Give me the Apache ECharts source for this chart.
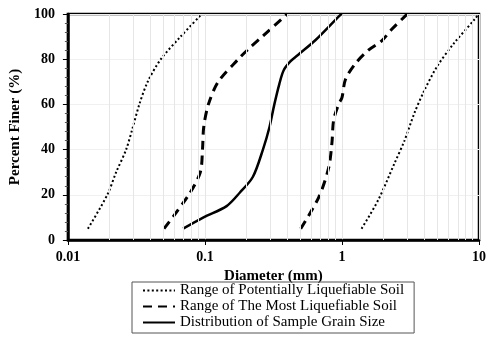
<!DOCTYPE html>
<html>
<head>
<meta charset="utf-8">
<script src="https://cdn.jsdelivr.net/npm/echarts@6/dist/echarts.min.js"></script>
<style>html,body{margin:0;padding:0;background:#fff;}#c{width:489px;height:338px;}</style>
</head>
<body>
<div id="c"></div>
<script>
// Series names
var seriesNames = ['Range of Potentially Liquefiable Soil', 'Range of The Most Liquefiable Soil', 'Distribution of Sample Grain Size'];
// Range of potentially liquefiable soil (fine and coarse bounds) [diameter mm, % finer]
var potentialFine = [[0.014,5],[0.0194,20],[0.0225,30],[0.0266,40],[0.0298,50],[0.0332,60],[0.0382,70],[0.0477,80],[0.0664,90],[0.095,100]];
var potentialCoarse = [[1.39,5],[1.84,17.7],[2.42,34],[2.86,44],[3.37,56],[3.98,66],[4.97,77],[6.56,87],[9.4,98],[9.9,100]];
// Range of the most liquefiable soil (fine and coarse bounds)
var mostFine = [[0.0503,5],[0.0762,20],[0.0925,30],[0.096,40],[0.098,50],[0.106,60],[0.125,70],[0.175,80],[0.212,85],[0.262,90],[0.367,98],[0.40,100]];
var mostCoarse = [[0.5,5],[0.678,19],[0.80,32],[0.845,43],[0.869,53],[0.944,60],[1.0,63],[1.06,71],[1.25,78],[1.56,84],[1.94,88],[2.29,93],[2.94,99.5],[3.0,100]];
// Distribution of sample grain size
var sample = [[0.0693,5],[0.0977,10],[0.144,15],[0.18,21],[0.224,28],[0.265,40],[0.296,50],[0.321,60],[0.349,69],[0.375,75],[0.420,79],[0.480,82],[0.642,88.5],[0.97,99.5],[1.0,100]];
// Axis ticks
var xTickLabels = [0.01, 0.1, 1, 10];
var yTicks = [0, 20, 40, 60, 80, 100];
var minorTicks = [0.02,0.03,0.04,0.05,0.06,0.07,0.08,0.09,0.2,0.3,0.4,0.5,0.6,0.7,0.8,0.9,2,3,4,5,6,7,8,9];

var FONT = 'Liberation Serif';
var chart = echarts.init(document.getElementById('c'));
var dotStyle = {color:'#000', width:2, type:[2,2.4], cap:'butt'};
var dashStyle = {color:'#000', width:3, type:[9,6]};
var solidStyle = {color:'#000', width:2.5};
function line(name, data, style, z) {
  return {name:name, type:'line', data:data, symbol:'none', showSymbol:false, smooth:0.3, lineStyle:style, itemStyle:{color:'#000'}, z:z||3, silent:true};
}
var series = [
  line(seriesNames[0], potentialFine, dotStyle),
  line(seriesNames[0], potentialCoarse, dotStyle),
  line(seriesNames[1], mostFine, dashStyle),
  line(seriesNames[1], mostCoarse, dashStyle),
  line(seriesNames[2], sample, solidStyle),
  {type:'line', data:[], silent:true, z:1,
   markLine:{silent:true, symbol:'none', label:{show:false},
     lineStyle:{color:'#e6e6e6', width:1, type:'solid'},
     data: minorTicks.map(function(v){return {xAxis:v};})}}
];
chart.setOption({
  animation:false,
  grid:{left:66, right:7, top:14, bottom:98, show:true, borderColor:'#000', borderWidth:2.5, backgroundColor:'transparent'},
  legend:{
    data:seriesNames, orient:'vertical', left:132, top:282, width:281,
    padding:[1,10,3,10], itemGap:1, itemWidth:32, itemHeight:15,
    borderColor:'#555', borderWidth:1, selectedMode:false,
    itemStyle:{opacity:0},
    textStyle:{fontFamily:FONT, fontSize:15, color:'#000'}
  },
  xAxis:{
    type:'log', logBase:10, min:0.01, max:10,
    name:'Diameter (mm)', nameLocation:'middle', nameGap:21,
    nameTextStyle:{fontFamily:FONT, fontSize:15, fontWeight:'bold', color:'#000'},
    axisLine:{show:true, lineStyle:{color:'#000', width:2.5}},
    axisTick:{show:true, length:5, lineStyle:{color:'#000'}},
    axisLabel:{fontFamily:FONT, fontSize:14, fontWeight:'bold', color:'#000', margin:10,
      formatter:function(v){ var s = xTickLabels.find(function(t){return Math.abs(t-v)/t<1e-6;}); return s===undefined? '' : String(s);} },
    splitLine:{show:true, lineStyle:{color:'#e6e6e6', width:1}}
  },
  yAxis:{
    type:'value', min:0, max:100, interval:20,
    name:'Percent Finer (%)', nameLocation:'middle', nameGap:44, nameRotate:90,
    nameTextStyle:{fontFamily:FONT, fontSize:15, fontWeight:'bold', color:'#000'},
    axisLine:{show:true, lineStyle:{color:'#000', width:2.5}},
    axisTick:{show:true, length:5, lineStyle:{color:'#000'}},
    minorTick:{show:true, splitNumber:5, length:3, lineStyle:{color:'#555'}},
    axisLabel:{fontFamily:FONT, fontSize:14, fontWeight:'bold', color:'#000', margin:13,
      formatter:function(v){ return yTicks.indexOf(v)>=0 ? String(v) : ''; }},
    splitLine:{show:true, lineStyle:{color:'#f0f0f0', width:1}}
  },
  series:series
});
</script>
</body>
</html>
